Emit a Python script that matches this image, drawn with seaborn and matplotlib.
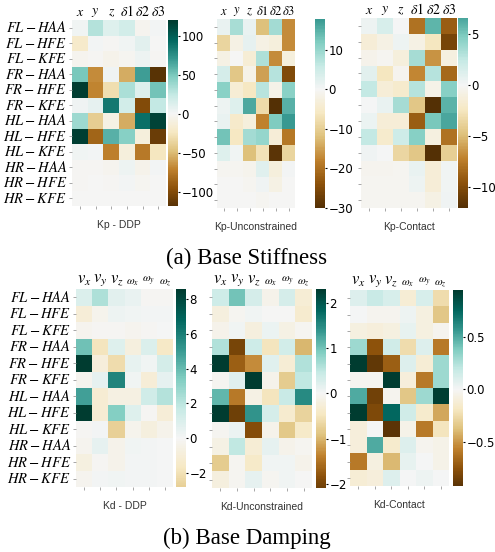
import numpy as np
import pandas as pd
import matplotlib
matplotlib.use("Agg")
import matplotlib.pyplot as plt
import seaborn as sns

rows = ["FL-HAA", "FL-HFE", "FL-KFE", "FR-HAA", "FR-HFE", "FR-KFE",
        "HL-HAA", "HL-HFE", "HL-KFE", "HR-HAA", "HR-HFE", "HR-KFE"]
kp_cols = [r"$x$", r"$y$", r"$z$", r"$\delta1$", r"$\delta2$", r"$\delta3$"]
kd_cols = [r"$v_x$", r"$v_y$", r"$v_z$", r"$\omega_x$", r"$\omega_y$", r"$\omega_z$"]

kp_ddp = [
    [2, 30, 12, 18, -3, 1],
    [-20, 1, -1, 2, 10, 0],
    [-3, -1, -5, -2, 4, -1],
    [50, -67, 3, -55, 68, -118],
    [120, -70, -30, 33, 12, 52],
    [3, 8, 86, 18, -100, 25],
    [38, -40, -8, -55, 91, 115],
    [118, -85, 60, 45, -12, -110],
    [2, 1, -72, -12, -75, -25],
    [-1, -1, -3, 4, -5, 1],
    [-1, 0, -1, 1, -2, 0],
    [0, 0, 0, 0, 0, 0],
]
kp_unc = [
    [1.5, 8.5, 1.5, -12, 9, -17],
    [-9, -2, 2, -2, -3, -17],
    [-2, 0, -4, 8, -17, -3],
    [4, -11, -1.5, -15, 7.5, -25],
    [11, -4, -6, 7, -1.5, 11],
    [1, 3, 16, -8, -30, 15],
    [1.5, -5, -3, -18, 12, 17.8],
    [13, -6, 9, 10, -3.5, -19],
    [3, 0.5, -12, -7, -29, -9],
    [-0.5, -0.5, -1, 2.5, -3, 0.3],
    [0, 0, -0.5, 0.8, -2, -0.3],
    [0, 0, -0.3, -0.5, 0, 0],
]
kp_con = [
    [0.4, 1.5, 0, -8, 5.8, -9],
    [-1.5, -0.8, 0.4, -0.8, -2.5, -10.5],
    [-0.5, -0.2, -1.2, 3.5, -6.5, -1],
    [1, -2.5, -0.3, -7, 3, -8.5],
    [2.5, -1.5, -2, 3, -0.7, 4.5],
    [0, 0.6, 3.5, -4.5, -12.1, 6],
    [0.5, -1.5, -1.5, -9, 5, 6.6],
    [2.5, -2, 2, 4.5, -1, -8],
    [0.3, 0, -3.5, -4.5, -12, -4],
    [-0.3, -0.3, -0.2, 0.6, -1.5, 0.2],
    [-0.2, -0.2, -0.2, 0.4, -1.5, 0.2],
    [-0.2, -0.2, -0.2, -0.2, -0.8, 0.3],
]
kd_ddp = [
    [1.0, 2.3, 0.7, 0.4, -0.1, -0.1],
    [-1.0, -0.3, 0.3, 0.2, 0.1, 0.1],
    [-0.2, -0.1, -0.1, -0.2, -0.1, 0.0],
    [3.8, -1.8, 0.8, -0.8, 1.0, -1.6],
    [8.57, -0.9, -2.2, 0.5, 0.2, 1.2],
    [-0.2, 0.6, 5.8, 0.2, -1.0, 0.6],
    [4.8, -1.2, -0.6, -0.6, 1.4, 2.2],
    [8.5, -1.2, 3.3, 0.8, -0.1, -1.0],
    [-0.1, 0.1, -2.8, -0.3, -0.8, -0.4],
    [-0.2, 0.6, -0.4, 0.2, 0.1, 0.0],
    [-0.7, -0.1, -0.4, 0.1, 0.1, 0.0],
    [-0.2, 0.1, 0.2, 0.1, 0.1, 0.0],
]
kd_unc = [
    [0.4, 1.0, 0.3, -0.1, 0.3, -0.3],
    [-0.2, -0.05, 0.05, 0.0, 0.0, -0.35],
    [-0.1, 0.05, -0.2, 0.1, -0.15, -0.05],
    [0.6, -2.0, 0.4, -0.5, 0.35, -1.0],
    [2.31, -1.7, -1.3, 0.2, -0.3, 0.6],
    [-0.05, 0.2, 2.3, -0.1, -0.8, 0.5],
    [1.1, -1.45, -0.15, -0.5, 0.45, 1.5],
    [2.3, -2.09, 1.4, 0.3, -0.35, -0.7],
    [-0.05, 0.1, -1.9, -0.1, -0.85, -0.4],
    [-0.15, 0.5, -0.3, 0.15, -0.1, -0.05],
    [-0.8, -0.05, -0.4, 0.05, 0.05, -0.1],
    [-0.2, -0.05, 0.15, -0.05, 0.05, 0.0],
]
kd_con = [
    [0.1, 0.18, 0.12, -0.12, 0.12, -0.25],
    [0.0, -0.03, -0.03, 0.03, -0.08, -0.35],
    [-0.08, -0.1, -0.08, 0.05, -0.08, -0.03],
    [0.3, -0.75, 0.15, -0.25, 0.1, -0.6],
    [0.946, -0.9, -0.7, 0.1, -0.12, 0.3],
    [-0.02, -0.02, 0.95, -0.1, -0.6, 0.3],
    [0.5, -0.85, -0.03, -0.35, 0.3, 0.93],
    [0.94, -0.8, 0.75, 0.15, -0.15, -0.45],
    [-0.1, 0.0, -0.924, -0.05, -0.6, -0.2],
    [-0.1, 0.5, -0.15, 0.1, -0.03, -0.05],
    [-0.6, -0.08, -0.4, 0.05, 0.0, -0.05],
    [-0.12, -0.1, 0.1, 0.0, 0.03, 0.0],
]

titles = ["Kp - DDP", "Kp-Unconstrained", "Kp-Contact",
          "Kd - DDP", "Kd-Unconstrained", "Kd-Contact"]
cbar_ticks = [[100, 50, 0, -50, -100], [10, 0, -10, -20, -30], [5, 0, -5, -10],
              [8, 6, 4, 2, 0, -2], [2, 1, 0, -1, -2], [0.5, 0.0, -0.5]]
datasets = [kp_ddp, kp_unc, kp_con, kd_ddp, kd_unc, kd_con]
captions = ["(a) Base Stiffness", "(b) Base Damping"]

plt.rcParams["mathtext.fontset"] = "stix"

W, H = 495, 552
fig = plt.figure(figsize=(W / 100, H / 100), dpi=100)

# pixel boxes (x0, x1, y0, y1) for heatmaps and colorbars
hm_boxes = [(72, 166, 20, 206), (217, 295, 19, 208), (361, 457, 18, 208),
            (76, 173, 289, 487), (212, 312, 289, 488), (350, 449, 290, 486)]
cb_boxes = [(168, 178, 20, 206), (315, 325, 19, 208), (458, 468, 18, 208),
            (176, 186, 289, 487), (316, 326, 289, 488), (453, 463, 290, 486)]


def px_axes(box):
    x0, x1, y0, y1 = box
    return fig.add_axes([x0 / W, 1 - y1 / H, (x1 - x0) / W, (y1 - y0) / H])


row_labels = [r"$" + r + r"$" for r in rows]

for i, data in enumerate(datasets):
    ax = px_axes(hm_boxes[i])
    cax = px_axes(cb_boxes[i])
    cols = kp_cols if i < 3 else kd_cols
    df = pd.DataFrame(data, index=row_labels, columns=cols)
    sns.heatmap(df, ax=ax, cbar_ax=cax, cmap="BrBG", center=0,
                xticklabels=True, yticklabels=True,
                cbar_kws={"ticks": cbar_ticks[i]})
    ax.tick_params(axis="x", bottom=True, top=False, labelbottom=False,
                   labeltop=True, length=2, width=0.6, color="#999999", pad=-1.5)
    ax.tick_params(axis="y", left=True, length=2, width=0.6, color="#999999",
                   labelleft=(i % 3 == 0), rotation=0, labelsize=10.5, pad=1.5)
    for t in ax.get_xticklabels():
        t.set_rotation(0)
        txt = t.get_text()
        if i < 3:
            t.set_fontsize(9 if i == 1 else 10)
        else:
            t.set_fontsize(12 if "v" in txt else 8)
    ax.set_xlabel(titles[i], fontsize=7.5, color="#333333",
                  family="Liberation Sans", labelpad=8)
    ax.set_ylabel("")
    cax.tick_params(labelsize=8.5, length=1.5, width=0.8, pad=1)

fig.text(247 / W, 1 - 258 / H, captions[0], ha="center", va="center",
         fontsize=16.5, family="Liberation Serif")
fig.text(247 / W, 1 - 538 / H, captions[1], ha="center", va="center",
         fontsize=16.5, family="Liberation Serif")

fig.savefig("out.png", dpi=100)
